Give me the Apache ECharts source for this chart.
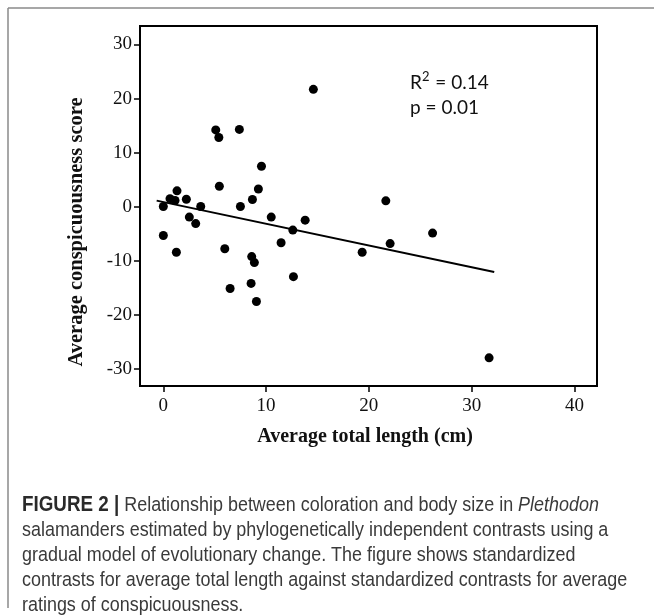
<!DOCTYPE html>
<html>
<head>
<meta charset="utf-8">
<script src="https://cdn.jsdelivr.net/npm/echarts@6/dist/echarts.min.js"></script>
<style>
html,body{margin:0;padding:0;background:#fff;}
#c{width:654px;height:615px;}
</style>
</head>
<body>
<div id="c"></div>
<script>
// Data
var lengthContrast = [14.6, 5.1, 5.4, 7.4, 9.55, 5.45, 9.25, 1.33, 0.65, 1.14, 2.24, 8.67, 0, 3.64, 7.5, 10.5, 2.53, 3.15, 13.8, 12.6, 0, 1.27, 5.98, 11.46, 8.6, 8.86, 12.66, 6.5, 8.54, 9.06, 21.65, 19.35, 22.07, 26.2, 31.7];
var conspicuousnessContrast = [21.7, 14.2, 12.8, 14.3, 7.5, 3.8, 3.3, 2.95, 1.5, 1.16, 1.4, 1.35, 0.05, 0.05, 0.05, -1.9, -1.9, -3.1, -2.46, -4.3, -5.3, -8.4, -7.75, -6.64, -9.2, -10.3, -12.9, -15.1, -14.15, -17.5, 1.1, -8.4, -6.8, -4.86, -27.9];
var fitX = [-0.65, 32.2];
var fitY = [1.14, -12.05];
var xTicks = [0, 10, 20, 30, 40];
var yTicks = [-30, -20, -10, 0, 10, 20, 30];

var points = lengthContrast.map(function (x, i) { return [x, conspicuousnessContrast[i]]; });
var fitLine = fitX.map(function (x, i) { return [x, fitY[i]]; });

var serif = '"Liberation Serif","Times New Roman",serif';
var sans = '"Liberation Sans",Arial,sans-serif';

var chart = echarts.init(document.getElementById('c'));
chart.setOption({
  animation: false,
  backgroundColor: '#fff',
  grid: {
    left: 140, top: 26, width: 457, height: 360,
    show: true, borderColor: '#000', borderWidth: 2, backgroundColor: 'transparent'
  },
  xAxis: {
    type: 'value', min: -2.27, max: 42.2,
    axisLine: { show: true, onZero: false, lineStyle: { color: '#000', width: 2 } },
    axisTick: { show: true, length: 6, customValues: xTicks, lineStyle: { color: '#000', width: 1.5 } },
    axisLabel: { customValues: xTicks, margin: 11, color: '#111', fontFamily: serif, fontSize: 19 },
    splitLine: { show: false }
  },
  yAxis: {
    type: 'value', min: -33.1, max: 33.4,
    axisLine: { show: true, onZero: false, lineStyle: { color: '#000', width: 2 } },
    axisTick: { show: true, length: 6, customValues: yTicks, lineStyle: { color: '#000', width: 1.5 } },
    axisLabel: { customValues: yTicks, margin: 8, color: '#111', fontFamily: serif, fontSize: 19 },
    splitLine: { show: false }
  },
  series: [
    {
      type: 'scatter', data: points, symbol: 'circle', symbolSize: 9,
      itemStyle: { color: '#000', opacity: 1 }, z: 3
    },
    {
      type: 'line', data: fitLine, symbol: 'none',
      lineStyle: { color: '#000', width: 2 }, z: 2
    }
  ],
  graphic: [
    { type: 'line', shape: { x1: 8, y1: 8, x2: 660, y2: 8 }, style: { stroke: '#8a8a8a', lineWidth: 1.5 } },
    { type: 'line', shape: { x1: 8, y1: 8, x2: 8, y2: 608 }, style: { stroke: '#8a8a8a', lineWidth: 1.5 } },
    {
      type: 'text', left: 410, top: 70,
      style: {
        text: '{a|R}{s|2}{a| = 0.14}\n{a|p = 0.01}',
        rich: {
          a: { fontFamily: 'Lato, "Open Sans", sans-serif', fontSize: 19, fill: '#111', lineHeight: 25 },
          s: { fontFamily: 'Lato, "Open Sans", sans-serif', fontSize: 13, fill: '#111', lineHeight: 25, verticalAlign: 'top', padding: [0, 1, 9, 0] }
        }
      }
    },
    {
      type: 'text', x: 77, y: 232, rotation: Math.PI / 2,
      style: {
        text: 'Average conspicuousness score', fontFamily: serif, fontWeight: 'bold',
        fontSize: 20.5, fill: '#111', align: 'center', verticalAlign: 'middle'
      }
    },
    {
      type: 'text', x: 365, y: 437,
      style: {
        text: 'Average total length (cm)', fontFamily: serif, fontWeight: 'bold',
        fontSize: 20, fill: '#111', align: 'center', verticalAlign: 'middle'
      }
    },
    {
      type: 'text', x: 22, y: 493, scaleX: 0.875, scaleY: 1,
      style: {
        text: '{b|FIGURE 2 |}{r| Relationship between coloration and body size in }{i|Plethodon}\n' +
              '{r|salamanders estimated by phylogenetically independent contrasts using a}\n' +
              '{r|gradual model of evolutionary change. The figure shows standardized}\n' +
              '{r|contrasts for average total length against standardized contrasts for average}\n' +
              '{r|ratings of conspicuousness.}',
        rich: {
          b: { fontFamily: sans, fontWeight: 'bold', fontSize: 21.5, fill: '#2a2a2a', lineHeight: 25 },
          r: { fontFamily: sans, fontSize: 20.5, fill: '#3a3a3a', lineHeight: 25 },
          i: { fontFamily: sans, fontStyle: 'italic', fontSize: 20.5, fill: '#3a3a3a', lineHeight: 25 }
        }
      }
    }
  ]
});
</script>
</body>
</html>
